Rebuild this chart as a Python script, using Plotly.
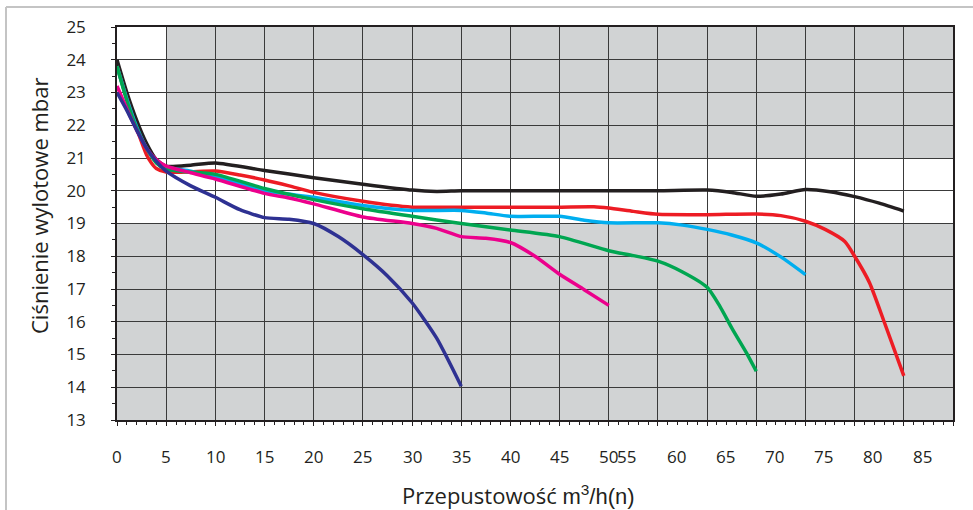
import plotly.graph_objects as go

# ---------------- data ----------------
black_x = [0, 1, 2, 3, 4, 5, 7.5, 10, 15, 20, 25, 30, 32.5, 35, 40, 45, 50, 55, 60, 62.5, 65, 67.5, 70, 72.5, 75, 77.5, 80]
black_y = [24.0, 23.0, 22.15, 21.45, 20.95, 20.75, 20.78, 20.85, 20.62, 20.4, 20.2, 20.02, 19.98, 20.0, 20.0, 20.0, 20.0, 20.0, 20.02, 19.95, 19.83, 19.9, 20.04, 19.97, 19.82, 19.62, 19.38]

red_x = [0, 1, 2, 3, 3.5, 4, 5, 7.5, 10, 12.5, 15, 17.5, 20, 25, 30, 35, 40, 45, 48.5, 50, 52.5, 55, 60, 65, 67.5, 70, 72, 74, 75, 76.5, 78, 80]
red_y = [23.8, 22.8, 21.9, 21.1, 20.85, 20.68, 20.57, 20.58, 20.6, 20.48, 20.33, 20.15, 19.95, 19.68, 19.5, 19.5, 19.5, 19.5, 19.51, 19.47, 19.37, 19.28, 19.27, 19.29, 19.24, 19.07, 18.82, 18.45, 18.0, 17.2, 16.0, 14.35]

cyan_x = [0, 1, 2, 3, 4, 5, 7.5, 10, 15, 20, 25, 30, 35, 37.5, 40, 45, 47.5, 50, 55, 57.5, 60, 62.5, 65, 67.5, 70]
cyan_y = [23.8, 22.8, 21.95, 21.3, 20.9, 20.72, 20.6, 20.42, 20.0, 19.8, 19.55, 19.4, 19.4, 19.32, 19.22, 19.22, 19.1, 19.02, 19.02, 18.95, 18.82, 18.65, 18.41, 17.98, 17.44]

green_x = [0, 1, 2, 3, 4, 5, 7.5, 10, 15, 20, 25, 30, 35, 40, 45, 50, 52.5, 55, 57.5, 60, 61.3, 62.6, 64, 65]
green_y = [23.8, 22.75, 21.9, 21.3, 20.85, 20.65, 20.57, 20.5, 20.07, 19.73, 19.45, 19.22, 19.0, 18.8, 18.6, 18.17, 18.02, 17.85, 17.52, 17.05, 16.47, 15.76, 15.05, 14.49]

magenta_x = [0, 1, 2, 3, 4, 5, 7.5, 10, 15, 17.5, 20, 25, 30, 32.5, 35, 37.5, 40, 42.5, 45, 47.5, 50]
magenta_y = [23.2, 22.5, 21.85, 21.3, 20.95, 20.75, 20.55, 20.36, 19.92, 19.78, 19.6, 19.2, 19.0, 18.85, 18.6, 18.55, 18.42, 18.0, 17.45, 16.98, 16.5]

blue_x = [0, 1, 2, 3, 4, 5, 7.5, 10, 12.5, 15, 17.5, 20, 22.5, 25, 27.5, 30, 32.5, 35]
blue_y = [23.0, 22.45, 21.85, 21.3, 20.9, 20.6, 20.15, 19.8, 19.42, 19.18, 19.13, 19.0, 18.6, 18.05, 17.4, 16.58, 15.5, 14.03]

x_tick_values = [0, 5, 10, 15, 20, 25, 30, 35, 40, 45, 50, 55, 60, 65, 70, 75, 80, 85]
x_tick_labels = [str(v) for v in x_tick_values]
y_tick_values = list(range(13, 26))

y_title = "Ciśnienie wylotowe mbar"
x_title = "Przepustowość <span style='font-family:Arial, Liberation Sans'>m<sup>3</sup>/h(n)</span>"

# ---------------- figure ----------------
series = [
    (black_x, black_y, "#231f20"),
    (red_x, red_y, "#ed1c24"),
    (cyan_x, cyan_y, "#00aeef"),
    (green_x, green_y, "#00a651"),
    (magenta_x, magenta_y, "#ec008c"),
    (blue_x, blue_y, "#2e3192"),
]

fig = go.Figure()
for xs, ys, col in series:
    fig.add_trace(go.Scatter(x=xs, y=ys, mode="lines",
                             line=dict(color=col, width=3.5, shape="spline", smoothing=0.6),
                             showlegend=False, hoverinfo="skip"))

GREY = "#d1d3d4"
fig.add_shape(type="rect", xref="x", yref="y", x0=0, x1=85, y0=13, y1=19,
              fillcolor=GREY, line_width=0, layer="below")
fig.add_shape(type="rect", xref="x", yref="y", x0=5, x1=85, y0=21, y1=25,
              fillcolor=GREY, line_width=0, layer="below")

W, H = 973, 510
ML, MR, MT, MB = 117, 20, 27, 90
PW, PH = W - ML - MR, H - MT - MB
def px_to_paper_x(px):
    return (px - ML) / PW
def px_to_paper_y(py):
    return 1 - (py - MT) / PH

# outer light border (top and left edges visible in the original)
fig.add_shape(type="line", xref="paper", yref="paper",
              x0=px_to_paper_x(6), x1=px_to_paper_x(973),
              y0=px_to_paper_y(7), y1=px_to_paper_y(7),
              line=dict(color="#c4c4c4", width=2), layer="above")
fig.add_shape(type="line", xref="paper", yref="paper",
              x0=px_to_paper_x(6), x1=px_to_paper_x(6),
              y0=px_to_paper_y(7), y1=px_to_paper_y(510),
              line=dict(color="#c4c4c4", width=2), layer="above")

TICKFONT = dict(family="Open Sans", size=17, color="#231f20")

# x tick labels (as in the original, labels from 55 on sit left of their gridlines)
for v, t in zip(x_tick_values, x_tick_labels):
    pos = v - 3.15 if v >= 55 else v
    fig.add_annotation(x=pos, y=px_to_paper_y(457), xref="x", yref="paper",
                       text=t, showarrow=False, font=TICKFONT,
                       xanchor="center", yanchor="middle")

fig.add_annotation(x=px_to_paper_x(39), y=px_to_paper_y(206), xref="paper", yref="paper",
                   text=y_title, textangle=-90, showarrow=False,
                   font=dict(family="Open Sans", size=22, color="#231f20"),
                   xanchor="center", yanchor="middle")
fig.add_annotation(x=px_to_paper_x(518), y=px_to_paper_y(495), xref="paper", yref="paper",
                   text=x_title, showarrow=False,
                   font=dict(family="Open Sans", size=22, color="#231f20"),
                   xanchor="center", yanchor="middle")

fig.update_layout(
    width=W, height=H,
    margin=dict(l=ML, r=MR, t=MT, b=MB),
    paper_bgcolor="white", plot_bgcolor="white",
    xaxis=dict(range=[0, 85], dtick=5, tick0=0, showgrid=True,
               gridcolor="#3a3a3a", gridwidth=1,
               showline=True, linecolor="#231f20", linewidth=1.5, mirror=True,
               ticks="outside", ticklen=4, tickcolor="#231f20",
               showticklabels=False, zeroline=False,
               minor=dict(dtick=1, ticks="outside", ticklen=3, tickcolor="#231f20", showgrid=False)),
    yaxis=dict(range=[13, 25], tickvals=y_tick_values, showgrid=True,
               gridcolor="#3a3a3a", gridwidth=1,
               showline=True, linecolor="#231f20", linewidth=1.5, mirror=True,
               ticks="outside", ticklen=4, tickcolor="#231f20",
               tickfont=TICKFONT, ticklabelstandoff=22, zeroline=False,
               minor=dict(dtick=0.5, ticks="outside", ticklen=3, tickcolor="#231f20", showgrid=False)),
)

fig.write_html("out.html", config={"displayModeBar": False},
               post_script="document.body.style.margin='0';")
